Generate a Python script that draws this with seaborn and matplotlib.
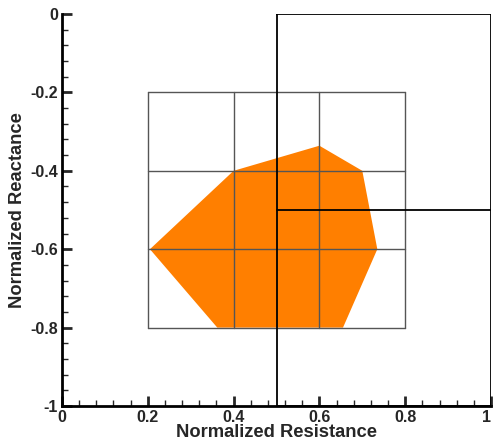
import matplotlib
matplotlib.use("Agg")
import matplotlib.pyplot as plt
from matplotlib.ticker import MultipleLocator
import numpy as np
import pandas as pd
import seaborn as sns

# Load-impedance region (normalized resistance / reactance)
region_r = [0.205, 0.40, 0.60, 0.70, 0.735, 0.655, 0.362]
region_x = [-0.60, -0.40, -0.336, -0.40, -0.60, -0.80, -0.80]

# Reference grid lines
grid_r = [0.2, 0.4, 0.6, 0.8]
grid_x = [-0.2, -0.4, -0.6, -0.8]

# Quadrant boundary: box at r >= 0.5 split at x = -0.5
box_r = [0.5, 1.0, 1.0, 0.5, 0.5]
box_x = [0.0, 0.0, -1.0, -1.0, 0.0]
split_r = [0.5, 1.0]
split_x = [-0.5, -0.5]

x_ticks = [0, 0.2, 0.4, 0.6, 0.8, 1]
x_labels = ["0", "0.2", "0.4", "0.6", "0.8", "1"]
y_ticks = [-1, -0.8, -0.6, -0.4, -0.2, 0]
y_labels = ["-1", "-0.8", "-0.6", "-0.4", "-0.2", "0"]

sns.set_style("white")
plt.rcParams["font.family"] = ["Liberation Sans", "DejaVu Sans"]

fig = plt.figure(figsize=(4.93, 4.47), dpi=100)
ax = fig.add_axes([62 / 493, 41 / 447, 429 / 493, 392 / 447])

region = pd.DataFrame({"r": region_r, "x": region_x})
ax.fill(region["r"], region["x"], color="#ff7f00", lw=0, zorder=1)

grid_color = "#555555"
for r in grid_r:
    ax.plot([r, r], [grid_x[0], grid_x[-1]], color=grid_color, lw=1, zorder=2)
for xv in grid_x:
    ax.plot([grid_r[0], grid_r[-1]], [xv, xv], color=grid_color, lw=1, zorder=2)

box = pd.DataFrame({"r": box_r, "x": box_x})
sns.lineplot(data=box, x="r", y="x", sort=False, estimator=None,
             color="black", lw=1.3, ax=ax, zorder=3)
split = pd.DataFrame({"r": split_r, "x": split_x})
sns.lineplot(data=split, x="r", y="x", sort=False, estimator=None,
             color="black", lw=1.3, ax=ax, zorder=3)

ax.set_xlim(0, 1)
ax.set_ylim(-1, 0)
for side in ("top", "right"):
    ax.spines[side].set_visible(False)
for side in ("left", "bottom"):
    ax.spines[side].set_linewidth(2)
    ax.spines[side].set_color("black")

ax.set_xticks(x_ticks)
ax.set_xticklabels(x_labels)
ax.set_yticks(y_ticks)
ax.set_yticklabels(y_labels)
ax.xaxis.set_minor_locator(MultipleLocator(0.04))
ax.yaxis.set_minor_locator(MultipleLocator(0.04))
ax.tick_params(which="major", direction="in", length=7, width=2,
               labelsize=11.5, pad=3, bottom=True, left=True)
ax.tick_params(which="minor", direction="in", length=4, width=1,
               bottom=True, left=True)
for lab in ax.get_xticklabels() + ax.get_yticklabels():
    lab.set_fontweight("bold")
# keep the last x label inside the figure edge
ax.get_xticklabels()[-1].set_horizontalalignment("right")

ax.set_xlabel("Normalized Resistance", fontsize=13.2, fontweight="bold", labelpad=-1)
ax.set_ylabel("Normalized Reactance", fontsize=13.2, fontweight="bold", labelpad=3)

fig.savefig("out.png", dpi=100)
